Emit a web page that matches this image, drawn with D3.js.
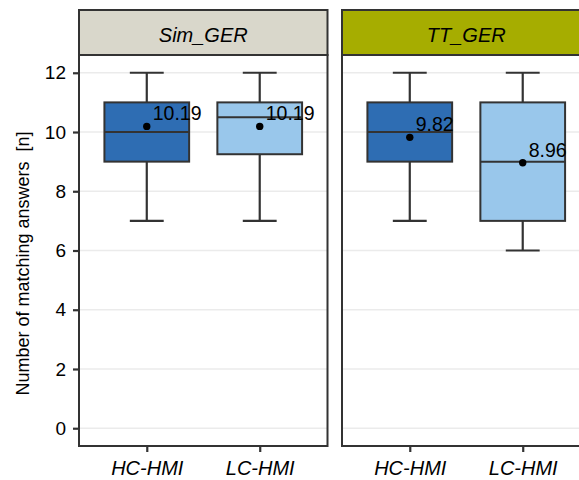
<!DOCTYPE html>
<html>
<head>
<meta charset="utf-8">
<script src="https://cdn.jsdelivr.net/npm/d3@7"></script>
<style>
  html, body { margin: 0; padding: 0; background: #fff; }
  svg { display: block; }
  text { font-family: "Liberation Sans", Arial, Helvetica, sans-serif; fill: #000; }
  .ytitle { white-space: pre; }
</style>
</head>
<body>
<svg id="chart" width="579" height="480"></svg>
<script>
// Facets, groups and box statistics
const facets = ["Sim_GER", "TT_GER"];
const stripFills = ["#d9d7cb", "#a6ad00"];
const groups = ["HC-HMI", "LC-HMI"];
const groupFills = ["#2e6db3", "#99c7eb"];

// per facet, per group
const whiskerLow  = [[7, 7], [7, 6]];
const boxLow      = [[9, 9.25], [9, 7]];
const medians     = [[10, 10.5], [10, 9]];
const boxHigh     = [[11, 11], [11, 11]];
const whiskerHigh = [[12, 12], [12, 12]];
const means       = [[10.19, 10.19], [9.82, 8.96]];

const yTicks = [0, 2, 4, 6, 8, 10, 12];

const svg = d3.select("#chart");
const ink = "#333333";

const panelTop = 55, panelBottom = 446, stripTop = 10;
const panelLefts = [79, 342];
const panelWidth = 248.5;

const y = d3.scaleLinear().domain([-0.6, 12.6]).range([panelBottom, panelTop]);

facets.forEach((facet, fi) => {
  const x0 = panelLefts[fi], x1 = x0 + panelWidth;
  const x = d3.scalePoint().domain(groups).range([x0, x1]).padding(0.6);
  const step = x.step();
  const boxW = step * 0.75, capW = step * 0.3;

  const g = svg.append("g");

  // horizontal grid
  g.selectAll("line.grid").data(yTicks).join("line")
    .attr("x1", x0).attr("x2", x1)
    .attr("y1", d => y(d)).attr("y2", d => y(d))
    .attr("stroke", "#ebebeb").attr("stroke-width", 1.4);

  const rows = groups.map((grp, gi) => ({
    grp, gi,
    wl: whiskerLow[fi][gi], bl: boxLow[fi][gi], md: medians[fi][gi],
    bh: boxHigh[fi][gi], wh: whiskerHigh[fi][gi], mean: means[fi][gi]
  }));

  const b = g.selectAll("g.box").data(rows).join("g");

  // whisker stems
  b.append("line")
    .attr("x1", d => x(d.grp)).attr("x2", d => x(d.grp))
    .attr("y1", d => y(d.wl)).attr("y2", d => y(d.wh))
    .attr("stroke", ink).attr("stroke-width", 2.2);
  // whisker caps
  ["wl", "wh"].forEach(k => {
    b.append("line")
      .attr("x1", d => x(d.grp) - capW / 2).attr("x2", d => x(d.grp) + capW / 2)
      .attr("y1", d => y(d[k])).attr("y2", d => y(d[k]))
      .attr("stroke", ink).attr("stroke-width", 2.2);
  });
  // box
  b.append("rect")
    .attr("x", d => x(d.grp) - boxW / 2).attr("width", boxW)
    .attr("y", d => y(d.bh)).attr("height", d => y(d.bl) - y(d.bh))
    .attr("fill", d => groupFills[d.gi])
    .attr("stroke", ink).attr("stroke-width", 2);
  // median
  b.append("line")
    .attr("x1", d => x(d.grp) - boxW / 2).attr("x2", d => x(d.grp) + boxW / 2)
    .attr("y1", d => y(d.md)).attr("y2", d => y(d.md))
    .attr("stroke", ink).attr("stroke-width", 2);
  // mean point
  b.append("circle")
    .attr("cx", d => x(d.grp)).attr("cy", d => y(d.mean)).attr("r", 3.7)
    .attr("fill", "#000");
  // mean label
  b.append("text")
    .attr("x", d => x(d.grp) + 6).attr("y", d => y(d.mean) - 6)
    .attr("font-size", 19.5)
    .text(d => d.mean.toFixed(2));

  // panel border
  g.append("rect")
    .attr("x", x0).attr("y", panelTop)
    .attr("width", panelWidth).attr("height", panelBottom - panelTop)
    .attr("fill", "none").attr("stroke", ink).attr("stroke-width", 2);

  // strip
  g.append("rect")
    .attr("x", x0).attr("y", stripTop)
    .attr("width", panelWidth).attr("height", panelTop - stripTop)
    .attr("fill", stripFills[fi]).attr("stroke", ink).attr("stroke-width", 2);
  g.append("text")
    .attr("x", (x0 + x1) / 2).attr("y", 41.5)
    .attr("text-anchor", "middle").attr("font-size", 20).attr("font-style", "italic")
    .text(facet);

  // x axis
  const xa = g.append("g")
    .attr("transform", `translate(0,${panelBottom})`)
    .call(d3.axisBottom(x).tickSize(6).tickPadding(9));
  xa.select(".domain").remove();
  xa.selectAll(".tick line").attr("stroke", ink).attr("stroke-width", 2.2);
  xa.selectAll(".tick text")
    .attr("font-size", 20).attr("font-style", "italic")
    .attr("fill", "#000")
    .attr("font-family", "'Liberation Sans', Arial, sans-serif");

  // y axis on the first panel only
  if (fi === 0) {
    const ya = g.append("g")
      .attr("transform", `translate(${x0},0)`)
      .call(d3.axisLeft(y).tickValues(yTicks).tickSize(6).tickPadding(7));
    ya.select(".domain").remove();
    ya.selectAll(".tick line").attr("stroke", ink).attr("stroke-width", 2.2);
    ya.selectAll(".tick text")
      .attr("font-size", 19).attr("fill", "#000")
      .attr("font-family", "'Liberation Sans', Arial, sans-serif");
  }
});

// y axis title
svg.append("text")
  .attr("class", "ytitle")
  .attr("transform", "translate(29,263.5) rotate(-90)")
  .attr("text-anchor", "middle").attr("font-size", 18)
  .text("Number of matching answers  [n]");
</script>
</body>
</html>
